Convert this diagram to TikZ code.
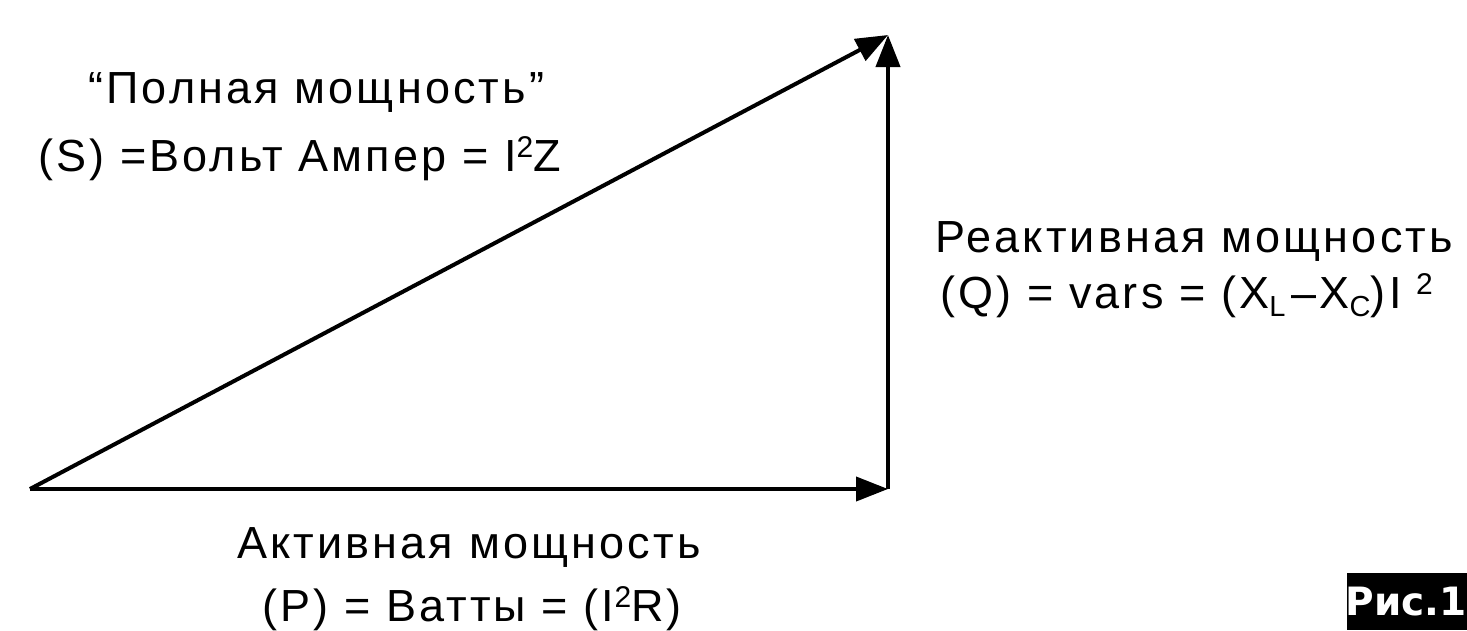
\documentclass[tikz,border=0pt]{standalone}
\usepackage{fontspec}
\setmainfont{Liberation Sans}
\newfontfamily\boxfont{DejaVu Sans}
\usetikzlibrary{arrows.meta}
\newcommand\supn[1]{\raisebox{14pt}{\fontsize{30}{30}\selectfont #1}}
\newcommand\subn[1]{\raisebox{-8pt}{\fontsize{29}{30}\selectfont #1}}
\begin{document}
\begin{tikzpicture}[x=1pt,y=-1pt,
  vec/.style={line width=4pt,-{Triangle[length=32pt,width=24pt]}},
  lbl/.style={anchor=base west,inner sep=0pt,font=\fontsize{45}{49}\selectfont\addfontfeature{LetterSpace=7}}]
\useasboundingbox (0,0) rectangle (1467,630);
\coordinate (A) at (30,489);
\coordinate (B) at (888,489);
\coordinate (C) at (888,35);
\draw[vec] (A) -- (B);
\draw[vec] (B) -- (C);
\draw[vec] (A) -- (C);
\node[lbl] (s1) at (88,103) {“Полная мощность”};
\node[lbl] (s2) at (38,171) {(S) =Вольт Ампер = I\supn{2}Z};
\node[lbl] (q1) at (935,252) {Реактивная мощность};
\node[lbl] (q2) at (940,308) {(Q) = vars = (X\subn{L}\hspace{6pt}–X\subn{C})\hspace{4pt}I\hspace{14pt}\supn{2}};
\node[lbl] (p1) at (237,558) {Активная мощность};
\node[lbl] (p2) at (262,621) {(P) = Ватты = (I\supn{2}R)};
\fill (1347,573) rectangle (1467,630);
\node[anchor=center,inner sep=0pt,text=white,font=\boxfont\fontsize{39}{44}\selectfont\bfseries] (fig) at (1406,602) {Рис.1};
\end{tikzpicture}
\end{document}
